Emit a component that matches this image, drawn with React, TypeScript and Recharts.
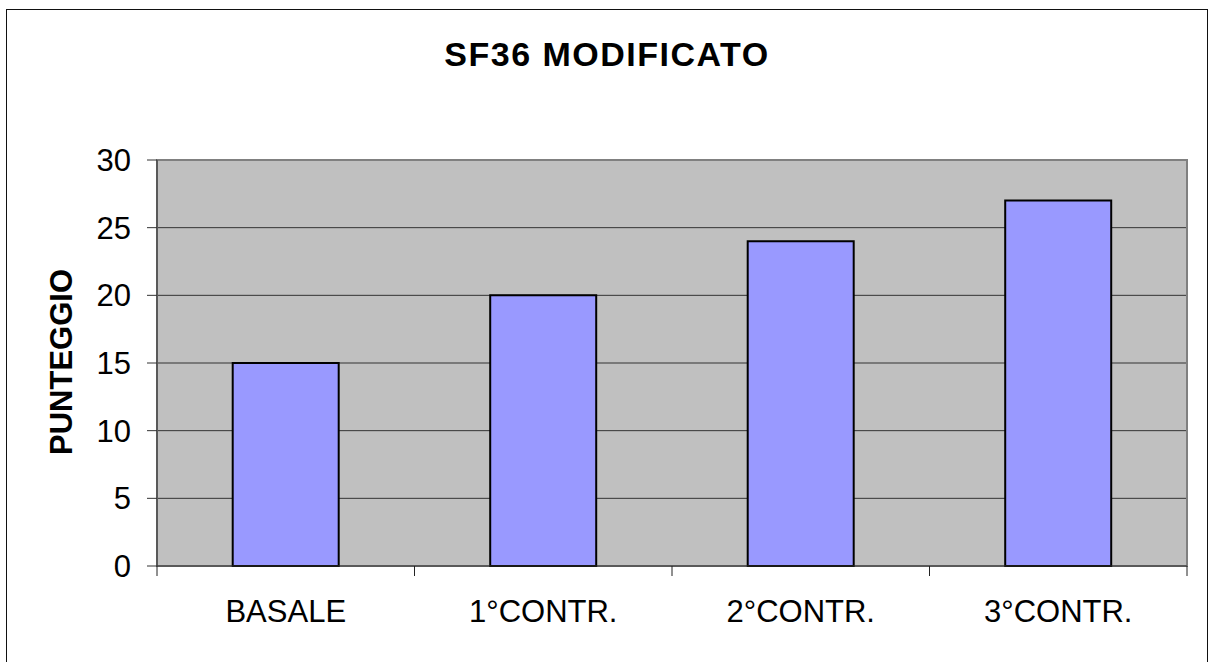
import React from 'react';
import { BarChart, Bar, XAxis, YAxis, CartesianGrid, ReferenceArea, Label } from 'recharts';

const categories = ['BASALE', '1°CONTR.', '2°CONTR.', '3°CONTR.'];
const scores = [15, 20, 24, 27];
const yTicks = [0, 5, 10, 15, 20, 25, 30];
const title = 'SF36 MODIFICATO';
const yLabel = 'PUNTEGGIO';

const data = categories.map((c, i) => ({ name: c, value: scores[i] }));

const FONT = '"Liberation Sans", Arial, sans-serif';
const X_TICK_SIZE = 10;
const X_TICK_MARGIN = 24;

function CategoryTick(props: any) {
  const { x, y, payload, index, width, visibleTicksCount } = props;
  const band = width / (visibleTicksCount || categories.length);
  const axisY = y - X_TICK_SIZE - X_TICK_MARGIN;
  const edges = [x - band / 2];
  if (index === (visibleTicksCount || categories.length) - 1) edges.push(x + band / 2);
  return (
    <g>
      {edges.map((ex, i) => (
        <line key={i} x1={ex} x2={ex} y1={axisY} y2={axisY + X_TICK_SIZE} stroke="#222" strokeWidth={1} />
      ))}
      <text x={x} y={y} dy="0.71em" textAnchor="middle" fontSize={31} fill="#000" fontFamily={FONT}>
        {payload.value}
      </text>
    </g>
  );
}

export default function App() {
  return (
    <div style={{ position: 'absolute', left: 0, top: 0, width: 1209, height: 662, overflow: 'hidden', background: '#fff', fontFamily: FONT }}>
      <div style={{ position: 'absolute', left: 6, top: 9, width: 1202, height: 720, border: '1px solid #111', boxSizing: 'border-box' }} />
      <div style={{ position: 'absolute', left: 0, top: 37, width: 1214, textAlign: 'center', fontSize: 34, fontWeight: 'bold', lineHeight: 1, color: '#000', letterSpacing: 1.5 }}>
        {title}
      </div>
      <div style={{ position: 'absolute', left: 0, top: 0 }}>
        <BarChart width={1209} height={662} data={data} margin={{ top: 160, right: 22, left: 57, bottom: 36 }} barCategoryGap="29.4%">
          <CartesianGrid vertical={false} fill="#C0C0C0" stroke="#333" strokeWidth={1} fillOpacity={1} />
          <XAxis dataKey="name" height={60} tickLine={false} tickSize={X_TICK_SIZE} tickMargin={X_TICK_MARGIN} axisLine={{ stroke: '#333' }} tick={<CategoryTick />} interval={0} />
          <YAxis width={100} domain={[0, 30]} ticks={yTicks} tickSize={10} tickMargin={16} axisLine={{ stroke: '#333' }} tickLine={{ stroke: '#333' }} tick={{ fontSize: 31, fill: '#000', fontFamily: FONT }} interval={0}>
            <Label
              content={() => (
                <text transform="translate(72,362) rotate(-90)" x={0} y={0} textAnchor="middle" fontSize={31} fontWeight="bold" fontFamily={FONT} fill="#000">
                  {yLabel}
                </text>
              )}
            />
          </YAxis>
          <Bar dataKey="value" fill="#9999FF" stroke="#000" strokeWidth={2} isAnimationActive={false} />
          <ReferenceArea x1={categories[0]} x2={categories[3]} y1={0} y2={30} fill="none" stroke="#808080" strokeWidth={2} ifOverflow="visible" />
        </BarChart>
      </div>
    </div>
  );
}
